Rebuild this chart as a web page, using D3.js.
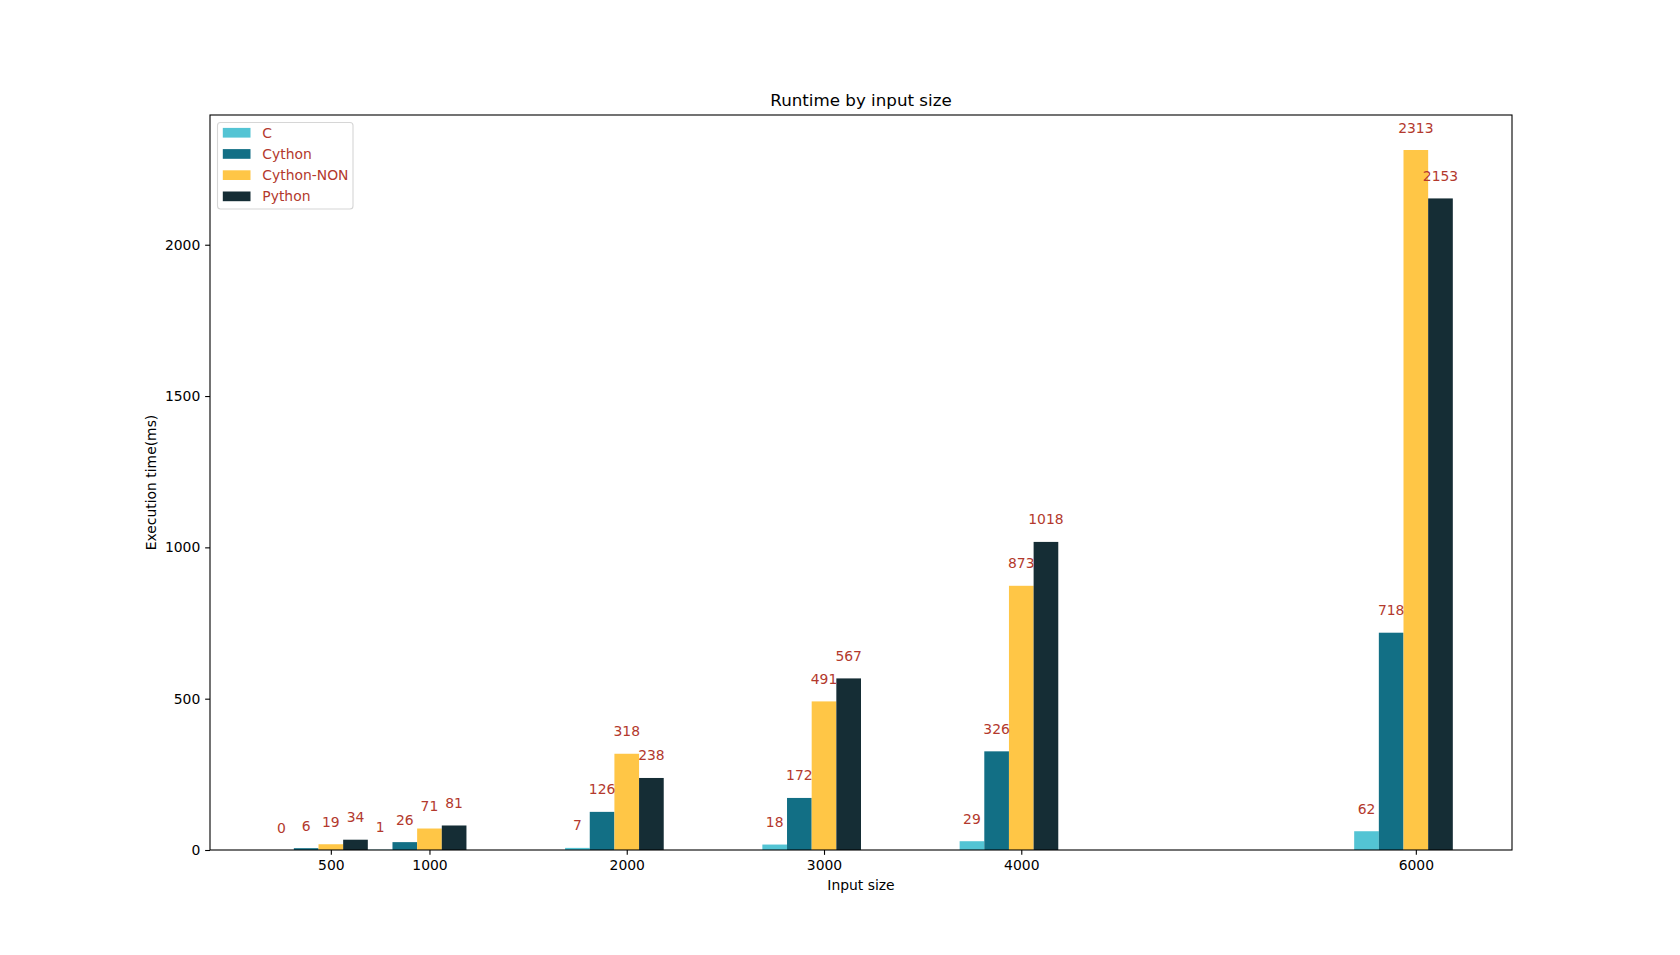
<!DOCTYPE html>
<html>
<head>
<meta charset="utf-8">
<script src="https://cdn.jsdelivr.net/npm/d3@7"></script>
<style>
  html, body { margin: 0; padding: 0; background: #ffffff; }
  svg { display: block; font-family: "DejaVu Sans", sans-serif; }
</style>
</head>
<body>
<svg id="chart" width="1680" height="955"></svg>
<script>
// ---- data ----
const inputSizes = [500, 1000, 2000, 3000, 4000, 6000];
const seriesNames = ["C", "Cython", "Cython-NON", "Python"];
const cValues = [0, 1, 7, 18, 29, 62];
const cythonValues = [6, 26, 126, 172, 326, 718];
const cythonNonValues = [19, 71, 318, 491, 873, 2313];
const pythonValues = [34, 81, 238, 567, 1018, 2153];
const yTickValues = [0, 500, 1000, 1500, 2000];
const xTickValues = [500, 1000, 2000, 3000, 4000, 6000];
const seriesColors = ["#53c4d4", "#126f85", "#ffc646", "#152d35"];
const barWidthUnits = 125;

const seriesValues = [cValues, cythonValues, cythonNonValues, pythonValues];

// ---- layout ----
const L = 210, R = 1512, T = 115, B = 850;
const svg = d3.select("#chart");
const font = "DejaVu Sans, sans-serif";
const labelColor = "#b3392d";

const x = d3.scaleLinear().domain([-112.5, 6487.5]).range([L, R]);
const y = d3.scaleLinear().domain([0, 2428.65]).range([B, T]);
const bw = x(barWidthUnits) - x(0);

// bars
seriesValues.forEach((vals, si) => {
  const g = svg.append("g");
  g.selectAll("rect").data(vals.map((v, i) => ({v, s: inputSizes[i]})))
    .join("rect")
    .attr("x", d => x(d.s + (si - 2) * barWidthUnits) - bw / 2)
    .attr("y", d => y(d.v))
    .attr("width", bw)
    .attr("height", d => y(0) - y(d.v))
    .attr("fill", seriesColors[si]);
});

// value labels
seriesValues.forEach((vals, si) => {
  svg.append("g").selectAll("text").data(vals.map((v, i) => ({v, s: inputSizes[i]})))
    .join("text")
    .attr("x", d => x(d.s + (si - 2) * barWidthUnits))
    .attr("y", d => y(d.v) - 17.5)
    .attr("text-anchor", "middle")
    .attr("font-size", "13.9px")
    .attr("fill", labelColor)
    .text(d => d.v);
});

// axes
const xAxis = d3.axisBottom(x).tickValues(xTickValues).tickSize(4.86).tickPadding(5.5).tickFormat(d3.format("d"));
const gx = svg.append("g").attr("transform", `translate(0,${B})`).call(xAxis);
gx.select(".domain").remove();
gx.selectAll("text").attr("font-size", "13.9px").attr("font-family", font).attr("fill", "#000");
gx.selectAll("line").attr("stroke", "#000").attr("stroke-width", 1.1);

const yAxis = d3.axisLeft(y).tickValues(yTickValues).tickSize(4.86).tickPadding(4.86).tickFormat(d3.format("d"));
const gy = svg.append("g").attr("transform", `translate(${L},0)`).call(yAxis);
gy.select(".domain").remove();
gy.selectAll("text").attr("font-size", "13.9px").attr("font-family", font).attr("fill", "#000");
gy.selectAll("line").attr("stroke", "#000").attr("stroke-width", 1.1);

// frame
svg.append("rect").attr("x", L).attr("y", T).attr("width", R - L).attr("height", B - T)
  .attr("fill", "none").attr("stroke", "#000").attr("stroke-width", 1.1);

// title & axis labels
svg.append("text").attr("x", (L + R) / 2).attr("y", 105.5).attr("text-anchor", "middle")
  .attr("font-size", "16.7px").attr("fill", "#000").text("Runtime by input size");
svg.append("text").attr("x", (L + R) / 2).attr("y", 889.5).attr("text-anchor", "middle")
  .attr("font-size", "13.9px").attr("fill", "#000").text("Input size");
svg.append("text").attr("transform", `translate(156,${(T + B) / 2}) rotate(-90)`)
  .attr("text-anchor", "middle").attr("font-size", "13.9px").attr("fill", "#000")
  .text("Execution time(ms)");

// legend
const lg = svg.append("g");
lg.append("rect").attr("x", 217.5).attr("y", 122.5).attr("width", 135.5).attr("height", 86.5)
  .attr("rx", 3).attr("fill", "#fff").attr("fill-opacity", 0.8).attr("stroke", "#d6d6d6").attr("stroke-width", 1.1);
seriesNames.forEach((name, i) => {
  const cy = 132.8 + i * 21.2;
  lg.append("rect").attr("x", 222.8).attr("y", cy - 4.9).attr("width", 27.7).attr("height", 9.7)
    .attr("fill", seriesColors[i]);
  lg.append("text").attr("x", 262.3).attr("y", cy + 5).attr("font-size", "13.9px")
    .attr("fill", labelColor).text(name);
});
</script>
</body>
</html>
